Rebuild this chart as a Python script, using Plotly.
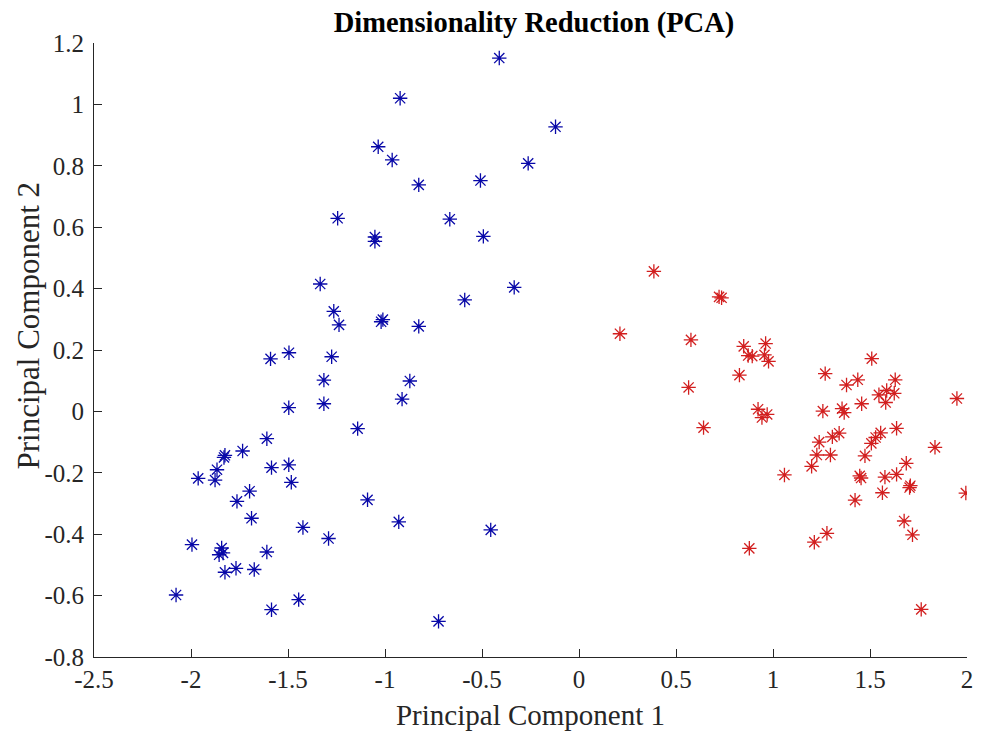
import plotly.graph_objects as go

# Class 1 (blue)
blue_x = [-0.411, -0.922, -0.121, -1.035, -0.963, -0.262, -0.508, -0.826, -1.244, -0.666,
          -0.493, -1.052, -1.052, -1.334, -0.334, -0.589, -1.264, -1.237, -1.011, -1.020,
          -0.826, -1.495, -1.590, -1.275, -1.315, -0.872, -0.912, -1.315, -1.496, -1.141,
          -1.609, -1.734, -1.825, -1.830, -1.866, -1.963, -1.876, -1.585, -1.496, -1.483,
          -1.698, -1.763, -1.090, -1.688, -1.423, -1.291, -0.929, -0.455, -1.995, -1.842,
          -1.855, -1.835, -1.609, -1.768, -1.674, -1.825, -2.077, -1.445, -1.585, -0.724]
blue_y = [1.151, 1.020, 0.927, 0.862, 0.819, 0.808, 0.752, 0.738, 0.629, 0.626,
          0.570, 0.568, 0.554, 0.415, 0.404, 0.363, 0.326, 0.282, 0.299, 0.292,
          0.277, 0.191, 0.171, 0.178, 0.102, 0.099, 0.040, 0.025, 0.012, -0.056,
          -0.089, -0.129, -0.143, -0.150, -0.190, -0.218, -0.224, -0.183, -0.174, -0.231,
          -0.260, -0.293, -0.288, -0.348, -0.378, -0.414, -0.360, -0.386, -0.434, -0.445,
          -0.467, -0.461, -0.458, -0.511, -0.515, -0.524, -0.598, -0.613, -0.646, -0.684]

# Class 2 (red)
red_x = [0.386, 0.722, 0.735, 0.211, 0.577, 0.849, 0.962, 0.872, 0.893, 0.956,
         0.977, 0.827, 1.269, 0.565, 0.923, 0.943, 0.970, 1.257, 0.642, 1.238,
         1.306, 1.226, 1.296, 1.199, 1.059, 1.278, 1.213, 0.878, 1.509, 1.379,
         1.437, 1.630, 1.546, 1.586, 1.625, 1.581, 1.948, 1.356, 1.367, 1.457,
         1.637, 1.555, 1.529, 1.507, 1.341, 1.835, 1.474, 1.687, 1.454, 1.447,
         1.577, 1.637, 1.704, 1.708, 1.994, 1.564, 1.423, 1.676, 1.719, 1.764]
red_y = [0.456, 0.373, 0.370, 0.253, 0.233, 0.212, 0.221, 0.182, 0.180, 0.184,
         0.163, 0.118, 0.123, 0.078, 0.007, -0.020, -0.010, 0.001, -0.053, -0.100,
         -0.083, -0.142, -0.142, -0.179, -0.207, -0.397, -0.426, -0.446, 0.172, 0.086,
         0.103, 0.103, 0.054, 0.068, 0.059, 0.029, 0.042, 0.009, -0.004, 0.025,
         -0.055, -0.070, -0.085, -0.104, -0.071, -0.117, -0.145, -0.169, -0.217, -0.210,
         -0.214, -0.205, -0.248, -0.242, -0.266, -0.265, -0.289, -0.357, -0.402, -0.645]

x_ticks = [-2.5, -2, -1.5, -1, -0.5, 0, 0.5, 1, 1.5, 2]
x_labels = ["-2.5", "-2", "-1.5", "-1", "-0.5", "0", "0.5", "1", "1.5", "2"]
y_ticks = [-0.8, -0.6, -0.4, -0.2, 0, 0.2, 0.4, 0.6, 0.8, 1, 1.2]
y_labels = ["-0.8", "-0.6", "-0.4", "-0.2", "0", "0.2", "0.4", "0.6", "0.8", "1", "1.2"]

FONT = "Liberation Serif"
AX = "#262626"
BLUE = "#0808a8"
RED = "#d21f1f"

fig = go.Figure()
fig.add_trace(go.Scatter(x=blue_x, y=blue_y, mode="markers", showlegend=False,
                         marker=dict(symbol="asterisk-open", size=12, color=BLUE,
                                     line=dict(color=BLUE, width=1.3))))
fig.add_trace(go.Scatter(x=red_x, y=red_y, mode="markers", showlegend=False,
                         marker=dict(symbol="asterisk-open", size=12, color=RED,
                                     line=dict(color=RED, width=1.3))))

axis_common = dict(showgrid=False, zeroline=False, showline=True, linecolor=AX,
                   linewidth=1, ticks="inside", ticklen=8, tickwidth=1, tickcolor=AX,
                   mirror=False, tickfont=dict(family=FONT, size=25, color="#262626"))

fig.update_layout(
    width=981, height=733,
    margin=dict(l=94, r=8, t=43, b=75),
    paper_bgcolor="white", plot_bgcolor="white",
    title=dict(text="<b>Dimensionality Reduction (PCA)</b>",
               font=dict(family=FONT, size=28.5, color="black"),
               x=0.504, xanchor="center", xref="paper",
               y=0.97, yanchor="middle", yref="container"),
    xaxis=dict(range=[-2.5, 2], tickvals=x_ticks, ticktext=x_labels,
               title=dict(text="Principal Component 1", standoff=12,
                          font=dict(family=FONT, size=29, color="#262626")),
               **axis_common),
    yaxis=dict(range=[-0.8, 1.2], tickvals=y_ticks, ticktext=y_labels,
               ticklabelstandoff=4, **axis_common),
)

fig.add_annotation(text="Principal Component 2", xref="paper", yref="paper",
                   x=-0.0755, y=0.540, xanchor="center", yanchor="middle",
                   textangle=-90, showarrow=False,
                   font=dict(family=FONT, size=31, color="#262626"))

fig.write_html("out.html")
